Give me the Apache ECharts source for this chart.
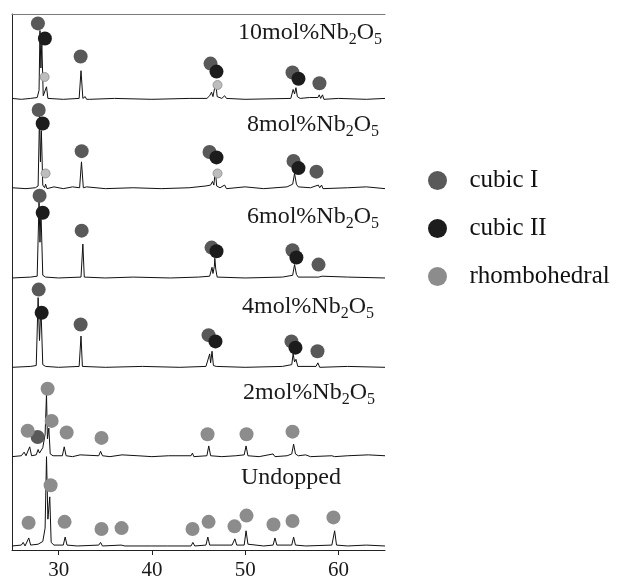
<!DOCTYPE html>
<html>
<head>
<meta charset="utf-8">
<title>XRD Nb2O5</title>
<script src="https://cdn.jsdelivr.net/npm/echarts@6/dist/echarts.min.js"></script>
<style>
  html, body { margin: 0; padding: 0; background: #fff; }
  #main { width: 621px; height: 581px; }
</style>
</head>
<body>
<div id="main"></div>
<script>
// 2theta ticks
var xTicks = [30, 40, 50, 60];

// panels from top to bottom
var panelNames = ['10mol', '8mol', '6mol', '4mol', '2mol', 'Undopped'];

// traces: [2theta, intensity above the panel baseline]
var trace10 = [[25,0.01],[26,0.0],[27,0.01],[27.7,0.02],[27.9,0.1],[28.0,0.77],[28.1,0.35],[28.2,0.62],[28.35,0.04],[28.55,0.02],[28.7,0.14],[28.85,0.01],[30.5,0.0],[32.2,0.01],[32.4,0.32],[32.6,0.01],[32.85,0.03],[33.0,0.0],[33.15,0.02],[33.3,0.0],[36,0.01],[40,0.0],[44,0.01],[45.9,0.01],[46.2,0.04],[46.4,0.08],[46.55,0.03],[46.75,0.04],[46.85,0.19],[47.0,0.03],[47.5,0.01],[47.8,0.04],[48.0,0.01],[50,0.0],[54.9,0.01],[55.15,0.11],[55.3,0.06],[55.45,0.13],[55.6,0.03],[55.9,0.01],[56.9,0.02],[57.1,0.0],[57.8,0.02],[57.95,0.05],[58.1,0.01],[58.3,0.05],[58.45,0.0],[60,0.01],[63,0.0],[65,0.01]];
var trace8 = [[25,0.01],[26.5,0.0],[27.5,0.01],[27.8,0.03],[27.95,0.82],[28.05,0.3],[28.15,0.65],[28.3,0.04],[28.5,0.01],[28.6,0.05],[28.75,0.0],[29.5,0.02],[30.5,0.0],[31.5,0.02],[32.25,0.01],[32.45,0.30],[32.65,0.01],[33,0.02],[35,0.0],[38,0.01],[41,0.0],[44,0.01],[45.8,0.03],[46.3,0.04],[46.5,0.08],[46.65,0.04],[46.8,0.21],[46.95,0.03],[47.3,0.01],[47.8,0.04],[48.0,0.0],[50,0.02],[52,0.0],[54.5,0.02],[55.1,0.05],[55.3,0.17],[55.5,0.05],[55.7,0.02],[57,0.01],[57.85,0.04],[58.0,0.01],[58.2,0.04],[58.35,0.0],[61,0.01],[63,0.02],[65,0.0]];
var trace6 = [[25,0.0],[27,0.01],[27.7,0.02],[27.9,0.85],[28.0,0.4],[28.1,0.76],[28.3,0.03],[28.6,0.01],[30,0.0],[32.4,0.01],[32.6,0.38],[32.75,0.01],[35,0.0],[38,0.01],[42,0.0],[45,0.01],[46.2,0.02],[46.45,0.12],[46.55,0.05],[46.7,0.13],[46.75,0.22],[46.85,0.1],[47.0,0.01],[50,0.0],[54,0.01],[55.1,0.03],[55.3,0.15],[55.5,0.04],[55.7,0.01],[57.9,0.01],[58.0,0.03],[58.1,0.01],[58.25,0.02],[58.4,0.0],[61,0.01],[65,0.0]];
var trace4 = [[25,0.0],[27,0.01],[27.6,0.02],[27.8,0.78],[27.95,0.3],[28.1,0.68],[28.3,0.03],[28.6,0.01],[30,0.0],[32.2,0.01],[32.4,0.35],[32.55,0.01],[35,0.0],[39,0.01],[43,0.0],[45.8,0.01],[46.2,0.15],[46.3,0.05],[46.45,0.18],[46.6,0.02],[46.9,0.01],[50,0.0],[54,0.01],[55.0,0.03],[55.15,0.15],[55.3,0.06],[55.45,0.09],[55.65,0.01],[57.6,0.01],[57.8,0.05],[58.0,0.0],[61,0.01],[65,0.0]];
var trace2 = [[25,0.0],[26.0,0.01],[26.3,0.05],[26.5,0.01],[26.9,0.11],[27.1,0.01],[27.6,0.02],[27.8,0.08],[27.95,0.04],[28.3,0.1],[28.55,0.25],[28.7,0.70],[28.8,0.2],[28.95,0.32],[29.1,0.03],[29.4,0.01],[30.4,0.01],[30.6,0.11],[30.8,0.01],[31.5,0.0],[32.3,0.02],[32.5,0.0],[34.3,0.01],[34.5,0.06],[34.7,0.01],[35.5,0.0],[36.8,0.02],[37,0.0],[38.5,0.01],[40,0.0],[41.8,0.01],[44.2,0.01],[44.35,0.04],[44.5,0.0],[45.9,0.01],[46.1,0.12],[46.3,0.01],[47.5,0.0],[49.0,0.01],[49.9,0.02],[50.1,0.12],[50.3,0.01],[51.5,0.0],[53.0,0.03],[53.2,0.0],[54.5,0.01],[55.0,0.03],[55.2,0.14],[55.4,0.03],[55.7,0.01],[56.5,0.02],[57,0.0],[59.3,0.01],[59.4,0.03],[59.6,0.0],[61,0.01],[63.2,0.02],[63.4,0.0],[65,0.01]];
var traceU = [[25,0.0],[26.0,0.01],[26.2,0.04],[26.4,0.0],[26.8,0.09],[27.0,0.01],[27.8,0.02],[28.3,0.05],[28.55,0.2],[28.7,1.0],[28.85,0.3],[29.05,0.55],[29.2,0.04],[29.5,0.01],[30.5,0.01],[30.7,0.1],[30.9,0.01],[32,0.0],[34.3,0.01],[34.5,0.04],[34.7,0.0],[36.7,0.01],[36.9,0.03],[37.1,0.0],[40,0.0],[41.7,0.0],[41.8,0.015],[41.9,0.0],[44.2,0.0],[44.4,0.04],[44.6,0.0],[45.8,0.01],[46.0,0.1],[46.2,0.01],[48.6,0.01],[48.9,0.08],[49.1,0.01],[49.9,0.01],[50.1,0.17],[50.3,0.02],[52,0.0],[53.0,0.01],[53.2,0.09],[53.4,0.01],[55.0,0.01],[55.2,0.1],[55.4,0.01],[56.5,0.0],[59.3,0.01],[59.6,0.17],[59.8,0.01],[61,0.0],[63.0,0.01],[63.2,0.0],[65,0.0]];
var traces = [trace10, trace8, trace6, trace4, trace2, traceU];

// phase markers: [panel index, 2theta, height above baseline]
var cubicI = [
  [0,27.78,0.85],[0,32.36,0.48],[0,46.29,0.40],[0,55.08,0.30],[0,57.97,0.18],
  [1,27.86,0.88],[1,32.47,0.42],[1,46.18,0.41],[1,55.19,0.31],[1,57.65,0.19],
  [2,27.96,0.92],[2,32.47,0.53],[2,46.4,0.34],[2,55.08,0.31],[2,57.87,0.15],
  [3,27.86,0.87],[3,32.36,0.48],[3,46.08,0.36],[3,54.97,0.29],[3,57.76,0.18],
  [4,27.75,0.22]
];
var cubicII = [
  [0,28.53,0.68],[0,46.93,0.31],[0,55.72,0.23],
  [1,28.29,0.73],[1,46.93,0.35],[1,55.72,0.23],
  [2,28.29,0.73],[2,46.93,0.30],[2,55.5,0.23],
  [3,28.18,0.61],[3,46.82,0.29],[3,55.4,0.22]
];
var rhomb = [
  [4,28.82,0.76],[4,29.25,0.40],[4,26.68,0.29],[4,30.86,0.27],[4,34.6,0.21],[4,45.97,0.25],[4,50.15,0.25],[4,55.08,0.28],
  [5,26.78,0.26],[5,29.14,0.68],[5,30.64,0.27],[5,34.6,0.19],[5,36.75,0.20],[5,44.36,0.19],[5,46.08,0.27],[5,48.86,0.22],[5,50.15,0.34],[5,53.04,0.24],[5,55.08,0.28],[5,59.47,0.32]
];
// weak rhombohedral traces in the 10 and 8 mol% patterns
var rhombMinor = [[0,28.5,0.25],[0,47.04,0.16],[1,28.6,0.17],[1,47.04,0.17]];

var serif = '"Liberation Serif", "DejaVu Serif", serif';

function offsetOf(i) {
  return panelNames.length - 1 - i + 0.045;
}
function shiftTrace(tr, i) {
  return tr.map(function (p) { return [p[0], p[1] + offsetOf(i)]; });
}
function shiftMarks(list) {
  return list.map(function (m) { return [m[1], m[2] + offsetOf(m[0])]; });
}

var series = [];
traces.forEach(function (tr, i) {
  series.push({
    name: panelNames[i],
    type: 'line',
    data: shiftTrace(tr, i),
    symbol: 'none',
    lineStyle: { color: '#111', width: 1 },
    z: 2
  });
});
series.push({ name: 'cubic I', type: 'scatter', data: shiftMarks(cubicI), symbolSize: 14, itemStyle: { color: '#595959', opacity: 1 }, z: 3 });
series.push({ name: 'cubic II', type: 'scatter', data: shiftMarks(cubicII), symbolSize: 14, itemStyle: { color: '#1c1c1c', opacity: 1 }, z: 4 });
series.push({ name: 'rhombohedral', type: 'scatter', data: shiftMarks(rhomb), symbolSize: 14, itemStyle: { color: '#8c8c8c', opacity: 1 }, z: 3 });
series.push({ name: 'rhombohedral minor', type: 'scatter', data: shiftMarks(rhombMinor), symbolSize: 9, itemStyle: { color: '#bdbdbd', borderColor: '#8a8a8a', borderWidth: 0.8, opacity: 1 }, z: 5 });

// panel labels (Nb2O5 with subscripts)
var labelPos = [[238, 33], [247, 125], [247, 217], [242, 307], [243, 393], [241, 478]];
var graphics = panelNames.map(function (n, i) {
  var txt = n === 'Undopped' ? '{n|Undopped}' : '{n|' + n + '%Nb}{s|2}{n|O}{s|5}';
  return {
    type: 'text',
    x: labelPos[i][0],
    y: labelPos[i][1],
    z: 10,
    style: {
      text: txt,
      verticalAlign: 'middle',
      rich: {
        n: { fontSize: 24, fontFamily: serif, lineHeight: 30, fill: '#1a1a1a' },
        s: { fontSize: 16, fontFamily: serif, lineHeight: 14, verticalAlign: 'bottom', fill: '#1a1a1a' }
      }
    }
  };
});

var chart = echarts.init(document.getElementById('main'));
chart.setOption({
  animation: false,
  backgroundColor: '#fff',
  grid: { left: 12, right: 236, top: 14, bottom: 30 },
  legend: {
    data: ['cubic I', 'cubic II', 'rhombohedral'],
    orient: 'vertical',
    left: 428,
    top: 168,
    padding: 0,
    itemWidth: 54,
    itemHeight: 19,
    itemGap: 23,
    icon: 'circle',
    textStyle: { fontSize: 25, fontFamily: serif, color: '#111' }
  },
  xAxis: [{
    type: 'value',
    min: 25,
    max: 65,
    position: 'bottom',
    axisLine: { lineStyle: { color: '#222', width: 1 } },
    axisTick: { show: true, length: 5, customValues: xTicks, lineStyle: { color: '#222' } },
    axisLabel: { customValues: xTicks, fontSize: 21, fontFamily: serif, color: '#1a1a1a', margin: 10 },
    splitLine: { show: false }
  }, {
    type: 'value',
    min: 25,
    max: 65,
    position: 'top',
    axisLine: { lineStyle: { color: '#7a7a7a', width: 1.2 } },
    axisTick: { show: false },
    axisLabel: { show: false },
    splitLine: { show: false }
  }],
  yAxis: {
    type: 'value',
    min: 0,
    max: 6,
    axisLine: { show: true, lineStyle: { color: '#222', width: 1 } },
    axisTick: { show: false },
    axisLabel: { show: false },
    splitLine: { show: false }
  },
  graphic: graphics,
  series: series
});
</script>
</body>
</html>
